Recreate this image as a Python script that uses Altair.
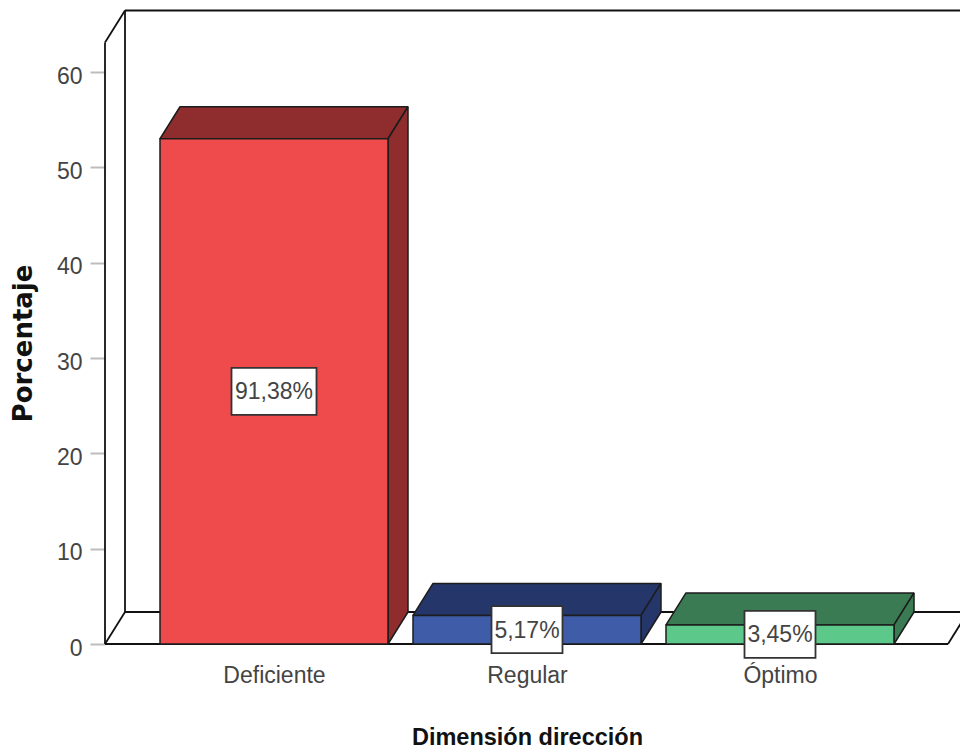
import json
import altair as alt
import pandas as pd

# Chart content
categories = ["Deficiente", "Regular", "Óptimo"]
frequencies = [53, 3, 2]
total_cases = 58
front_colors = ["#EF4B4D", "#3F5CA8", "#5CC98B"]
shade_colors = ["#8F2D2E", "#25366B", "#3A7B53"]
y_ticks = [0, 10, 20, 30, 40, 50, 60]

# Scale set-up: a bar centre sits at 1, 2, 3 on the x scale
PX_PER_X = 253.0
PX_PER_Y = 9.533
WIDTH, HEIGHT = 855, 644
X_DOMAIN = [1 - 169 / PX_PER_X, 1 + (WIDTH - 169) / PX_PER_X]
Y_DOMAIN = [0, HEIGHT / PX_PER_Y]

# Oblique depth of the pseudo-3D projection, in scale units
DX = 20 / PX_PER_X
DY = 32 / PX_PER_Y
BAR_W = 228 / PX_PER_X
LEFT = X_DOMAIN[0]
WALL_TOP = 601.5 / PX_PER_Y
FLOOR_RIGHT = LEFT + 843 / PX_PER_X
RIGHT_EDGE = X_DOMAIN[1] + 0.1

FONT = "Liberation Sans"
TEXT = "#444444"
EDGE = "#1c1c1c"


def pct_label(v):
    return f"{v / total_cases * 100:.2f}".replace(".", ",") + "%"


bars = pd.DataFrame(
    {
        "cat": categories,
        "v": frequencies,
        "c": [1, 2, 3],
        "label": [pct_label(v) for v in frequencies],
    }
)
bars["x0"] = bars.c - BAR_W / 2
bars["x1"] = bars.c + BAR_W / 2
bars["mid"] = bars.v / 2
bars["base"] = 0
bars["box_w"] = [(85 if len(s) > 5 else 71) / PX_PER_X for s in bars.label]
bars["bx0"] = bars.c - bars.box_w / 2
bars["bx1"] = bars.c + bars.box_w / 2
bars["by0"] = bars.mid - 23.5 / PX_PER_Y
bars["by1"] = bars.mid + 23.5 / PX_PER_Y

top_rows, side_rows = [], []
for r in bars.itertuples():
    top_rows.append({"cat": r.cat, "y": r.v, "xa": r.x0, "xb": r.x1})
    top_rows.append({"cat": r.cat, "y": r.v + DY, "xa": r.x0 + DX, "xb": r.x1 + DX})
    side_rows.append({"cat": r.cat, "x": r.x1, "ya": 0, "yb": r.v})
    side_rows.append({"cat": r.cat, "x": r.x1 + DX, "ya": DY, "yb": r.v + DY})
tops = pd.DataFrame(top_rows)
sides = pd.DataFrame(side_rows)

# Outline of the box the bars stand in: each segment is one line
segments = [
    [(LEFT, 0), (LEFT, WALL_TOP)],
    [(LEFT, WALL_TOP), (LEFT + DX, WALL_TOP + DY)],
    [(LEFT + DX, WALL_TOP + DY), (RIGHT_EDGE, WALL_TOP + DY)],
    [(LEFT + DX, DY), (LEFT + DX, WALL_TOP + DY)],
    [(LEFT, 0), (LEFT + DX, DY)],
    [(LEFT + DX, DY), (RIGHT_EDGE, DY)],
    [(LEFT, 0), (FLOOR_RIGHT, 0)],
    [(FLOOR_RIGHT, 0), (FLOOR_RIGHT + DX, DY)],
]
frame = pd.DataFrame(
    [
        {"seg": i, "step": j, "x": p[0], "y": p[1]}
        for i, s in enumerate(segments)
        for j, p in enumerate(s)
    ]
)

x_scale = alt.Scale(domain=X_DOMAIN, nice=False, zero=False)
y_scale = alt.Scale(domain=Y_DOMAIN, nice=False, zero=False)
colour_front = alt.Color("cat:N", scale=alt.Scale(domain=categories, range=front_colors), legend=None)
colour_shade = alt.Color("cat:N", scale=alt.Scale(domain=categories, range=shade_colors), legend=None)

x_axis = alt.Axis(
    values=[1, 2, 3],
    labelExpr=f"{json.dumps(categories)}[datum.value - 1]",
    title="Dimensión dirección",
    titleFont=FONT,
    titleFontSize=23.5,
    titleFontWeight="bold",
    titleColor="#111111",
    titleX=422,
    titleY=93,
    titleAnchor="middle",
    titleBaseline="middle",
    titleAlign="center",
    labelFont=FONT,
    labelFontSize=23,
    labelColor=TEXT,
    labelPadding=20,
    labelBaseline="top",
    labelFlush=False,
    labelOverlap=False,
    ticks=False,
    domain=False,
    grid=False,
)
y_axis = alt.Axis(
    values=y_ticks,
    title="Porcentaje",
    titleFont="DejaVu Sans",
    titleFontSize=26,
    titleFontWeight="bold",
    titleColor="#111111",
    titleAngle=270,
    titleX=-82,
    titleY=343,
    titleAlign="center",
    titleBaseline="middle",
    labelFont=FONT,
    labelFontSize=23,
    labelColor=TEXT,
    labelPadding=8,
    labelOffset=4,
    labelOverlap=False,
    labelFlush=False,
    tickColor="#bdbdbd",
    tickWidth=2,
    tickSize=15,
    domain=False,
    grid=False,
)

axes_layer = (
    alt.Chart(frame)
    .mark_line(color="#111111", strokeWidth=1.8, clip=False)
    .encode(
        x=alt.X("x:Q", scale=x_scale, axis=x_axis),
        y=alt.Y("y:Q", scale=y_scale, axis=y_axis),
        detail="seg:N",
        order="step:Q",
    )
)

top_layer = (
    alt.Chart(tops)
    .mark_area(orient="horizontal", stroke=EDGE, strokeWidth=1.5, strokeJoin="bevel")
    .encode(
        y=alt.Y("y:Q", scale=y_scale),
        x=alt.X("xa:Q", scale=x_scale),
        x2="xb:Q",
        color=colour_shade,
        detail="cat:N",
    )
)

side_layer = (
    alt.Chart(sides)
    .mark_area(orient="vertical", stroke=EDGE, strokeWidth=1.5, strokeJoin="bevel")
    .encode(
        x=alt.X("x:Q", scale=x_scale),
        y=alt.Y("ya:Q", scale=y_scale),
        y2="yb:Q",
        color=colour_shade,
        detail="cat:N",
    )
)

front_layer = (
    alt.Chart(bars)
    .mark_rect(stroke=EDGE, strokeWidth=1.5)
    .encode(
        x=alt.X("x0:Q", scale=x_scale),
        x2="x1:Q",
        y=alt.Y("v:Q", scale=y_scale),
        y2="base:Q",
        color=colour_front,
    )
)

box_layer = (
    alt.Chart(bars)
    .mark_rect(fill="white", stroke="#333333", strokeWidth=1.8)
    .encode(
        x=alt.X("bx0:Q", scale=x_scale),
        x2="bx1:Q",
        y=alt.Y("by0:Q", scale=y_scale),
        y2="by1:Q",
    )
)

text_layer = (
    alt.Chart(bars)
    .mark_text(font=FONT, fontSize=23, color=TEXT, align="center", baseline="middle", dy=1)
    .encode(
        x=alt.X("c:Q", scale=x_scale),
        y=alt.Y("mid:Q", scale=y_scale),
        text="label:N",
    )
)

chart = (
    alt.layer(axes_layer, top_layer, side_layer, front_layer, box_layer, text_layer)
    .resolve_scale(color="independent")
    .properties(
        width=WIDTH,
        height=HEIGHT,
        padding={"left": 105, "top": 0, "right": 0, "bottom": 107},
        autosize=alt.AutoSizeParams(type="none"),
        view=alt.ViewConfig(stroke="transparent", strokeWidth=0),
    )
    .configure_view(stroke="transparent", strokeWidth=0)
    .configure(background="white")
)

chart.save("out.html", embed_options={"renderer": "svg", "actions": False})
